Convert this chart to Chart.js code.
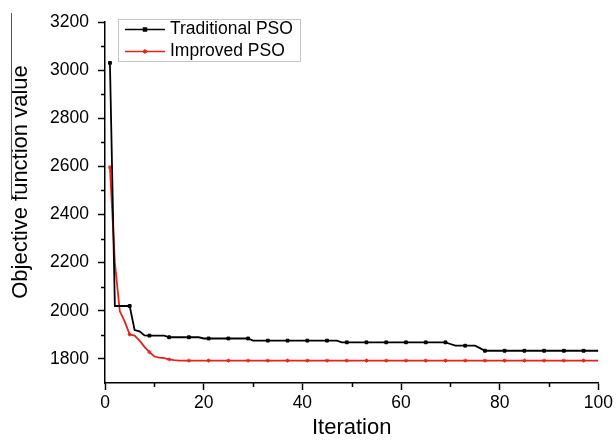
<!DOCTYPE html>
<html>
<head>
<meta charset="utf-8">
<script src="https://cdn.jsdelivr.net/npm/chart.js@4.4.1/dist/chart.umd.min.js"></script>
<style>
  html, body { margin: 0; padding: 0; background: #fff; }
  #wrap { width: 616px; height: 443px; }
</style>
</head>
<body>
<div id="wrap"><canvas id="chart" width="616" height="443"></canvas></div>
<script>
// --- Data ---
const iterations = [
  1, 2, 3, 4, 5, 6, 7, 8, 9, 10, 11, 12, 13, 14, 15, 16, 17, 18, 19, 20,
  21, 22, 23, 24, 25, 26, 27, 28, 29, 30, 31, 32, 33, 34, 35, 36, 37, 38, 39, 40,
  41, 42, 43, 44, 45, 46, 47, 48, 49, 50, 51, 52, 53, 54, 55, 56, 57, 58, 59, 60,
  61, 62, 63, 64, 65, 66, 67, 68, 69, 70, 71, 72, 73, 74, 75, 76, 77, 78, 79, 80,
  81, 82, 83, 84, 85, 86, 87, 88, 89, 90, 91, 92, 93, 94, 95, 96, 97, 98, 99, 100
];
const traditionalPSO = [
  3030, 2020, 2020, 2020, 2020, 1920, 1915, 1898, 1897, 1897, 1897, 1897, 1890, 1890, 1890, 1890, 1890, 1890, 1890, 1885,
  1885, 1885, 1885, 1885, 1885, 1885, 1885, 1885, 1885, 1876, 1876, 1876, 1876, 1876, 1876, 1876, 1876, 1876, 1876, 1876,
  1876, 1876, 1876, 1876, 1876, 1876, 1876, 1869, 1869, 1869, 1869, 1869, 1869, 1869, 1869, 1869, 1869, 1869, 1869, 1869,
  1869, 1869, 1869, 1869, 1869, 1869, 1869, 1869, 1869, 1862, 1855, 1855, 1855, 1855, 1855, 1845, 1834, 1834, 1834, 1834,
  1834, 1834, 1834, 1834, 1834, 1834, 1834, 1834, 1834, 1834, 1834, 1834, 1834, 1834, 1834, 1834, 1834, 1834, 1834, 1834
];
const improvedPSO = [
  2597, 2200, 1998, 1955, 1902, 1897, 1876, 1850, 1828, 1810, 1805, 1803, 1798, 1795, 1793, 1793, 1793, 1793, 1793, 1793,
  1793, 1793, 1793, 1793, 1793, 1793, 1793, 1793, 1793, 1793, 1793, 1793, 1793, 1793, 1793, 1793, 1793, 1793, 1793, 1793,
  1793, 1793, 1793, 1793, 1793, 1793, 1793, 1793, 1793, 1793, 1793, 1793, 1793, 1793, 1793, 1793, 1793, 1793, 1793, 1793,
  1793, 1793, 1793, 1793, 1793, 1793, 1793, 1793, 1793, 1793, 1793, 1793, 1793, 1793, 1793, 1793, 1793, 1793, 1793, 1793,
  1793, 1793, 1793, 1793, 1793, 1793, 1793, 1793, 1793, 1793, 1793, 1793, 1793, 1793, 1793, 1793, 1793, 1793, 1793, 1793
];
const seriesNames = ['Traditional PSO', 'Improved PSO'];
const xTicks = [0, 20, 40, 60, 80, 100];
const xMinorTicks = [10, 30, 50, 70, 90];
const yTicks = [1800, 2000, 2200, 2400, 2600, 2800, 3000, 3200];
const yMinorTicks = [1900, 2100, 2300, 2500, 2700, 2900, 3100];

const FONT = "'Liberation Sans', Arial, sans-serif";
const BLACK = '#000000';
const RED = '#e3241d';

// --- Helpers ---
function toPoints(values) {
  return iterations.map((it, i) => ({x: it, y: values[i]}));
}
function markerRadius(ctx) {
  return ctx.dataIndex % 4 === 0 ? 2 : 0;
}

// --- Extras plugin: minor ticks, y title, legend box ---
const extrasPlugin = {
  id: 'extras',
  afterDraw(chart) {
    const ctx = chart.ctx;
    const xs = chart.scales.x, ys = chart.scales.y;
    const area = chart.chartArea;
    ctx.save();

    // minor ticks
    ctx.strokeStyle = BLACK;
    ctx.lineWidth = 1.5;
    ctx.beginPath();
    xMinorTicks.forEach(v => {
      const px = Math.round(xs.getPixelForValue(v)) + 0.5;
      ctx.moveTo(px, area.bottom);
      ctx.lineTo(px, area.bottom + 4);
    });
    yMinorTicks.forEach(v => {
      const py = Math.round(ys.getPixelForValue(v)) + 0.5;
      ctx.moveTo(area.left, py);
      ctx.lineTo(area.left - 4, py);
    });
    ctx.stroke();

    // y axis title
    ctx.fillStyle = BLACK;
    ctx.font = '22px ' + FONT;
    ctx.textAlign = 'center';
    ctx.textBaseline = 'alphabetic';
    ctx.translate(27, 182);
    ctx.rotate(-Math.PI / 2);
    ctx.fillText('Objective function value', 0, 0);
    ctx.setTransform(1, 0, 0, 1, 0, 0);

    // stray overline next to the y title
    ctx.strokeStyle = '#555';
    ctx.lineWidth = 1;
    ctx.beginPath();
    ctx.moveTo(11.5, 13);
    ctx.lineTo(11.5, 200);
    ctx.stroke();

    // legend box
    ctx.strokeStyle = '#c4c4c4';
    ctx.lineWidth = 1;
    ctx.strokeRect(118.5, 19.5, 182, 42);
    const rows = [29.5, 51.5];
    chart.data.datasets.forEach((ds, i) => {
      const y = rows[i];
      ctx.strokeStyle = ds.borderColor;
      ctx.fillStyle = ds.borderColor;
      ctx.lineWidth = 1.6;
      ctx.beginPath();
      ctx.moveTo(125, y);
      ctx.lineTo(165, y);
      ctx.stroke();
      Chart.helpers.drawPoint(ctx, {
        pointStyle: ds.pointStyle, radius: 2, borderWidth: 1, rotation: 0
      }, 145, y);
      ctx.fillStyle = BLACK;
      ctx.font = '17.5px ' + FONT;
      ctx.textAlign = 'left';
      ctx.textBaseline = 'middle';
      ctx.fillText(ds.label, 170, y);
    });
    ctx.restore();
  }
};

// --- Chart ---
new Chart(document.getElementById('chart'), {
  type: 'line',
  data: {
    datasets: [
      {
        label: seriesNames[0],
        data: toPoints(traditionalPSO),
        borderColor: BLACK,
        backgroundColor: BLACK,
        borderWidth: 1.8,
        pointStyle: 'rect',
        pointRadius: markerRadius,
        pointBorderWidth: 1,
        tension: 0
      },
      {
        label: seriesNames[1],
        data: toPoints(improvedPSO),
        borderColor: RED,
        backgroundColor: RED,
        borderWidth: 1.8,
        pointStyle: 'star',
        pointRadius: markerRadius,
        pointBorderWidth: 1,
        tension: 0
      }
    ]
  },
  options: {
    responsive: false,
    animation: false,
    layout: {padding: {top: 22, right: 17, bottom: 0, left: 0}},
    plugins: {legend: {display: false}, tooltip: {enabled: false}},
    elements: {point: {hoverRadius: 0}},
    scales: {
      x: {
        type: 'linear',
        min: 0,
        max: 100,
        afterBuildTicks: s => { s.ticks = xTicks.map(v => ({value: v})); },
        afterFit: s => { s.height = 60; },
        border: {display: true, color: BLACK, width: 1.5},
        grid: {drawOnChartArea: false, drawTicks: true, tickLength: 7, tickColor: BLACK, tickWidth: 1.5},
        ticks: {color: BLACK, padding: 3, font: {family: FONT, size: 17.5}, maxRotation: 0, autoSkip: false,
                callback: v => String(v)},
        title: {display: true, text: 'Iteration', color: BLACK, font: {family: FONT, size: 22}, padding: {top: 0, bottom: 2}}
      },
      y: {
        type: 'linear',
        min: 1700,
        max: 3200,
        afterBuildTicks: s => { s.ticks = yTicks.map(v => ({value: v})); },
        afterFit: s => { s.width = 105; },
        border: {display: true, color: BLACK, width: 1.5},
        grid: {drawOnChartArea: false, drawTicks: true, tickLength: 7, tickColor: BLACK, tickWidth: 1.5},
        ticks: {color: BLACK, padding: 9, font: {family: FONT, size: 17.5}, autoSkip: false,
                callback: v => String(v)}
      }
    }
  },
  plugins: [extrasPlugin]
});
</script>
</body>
</html>
